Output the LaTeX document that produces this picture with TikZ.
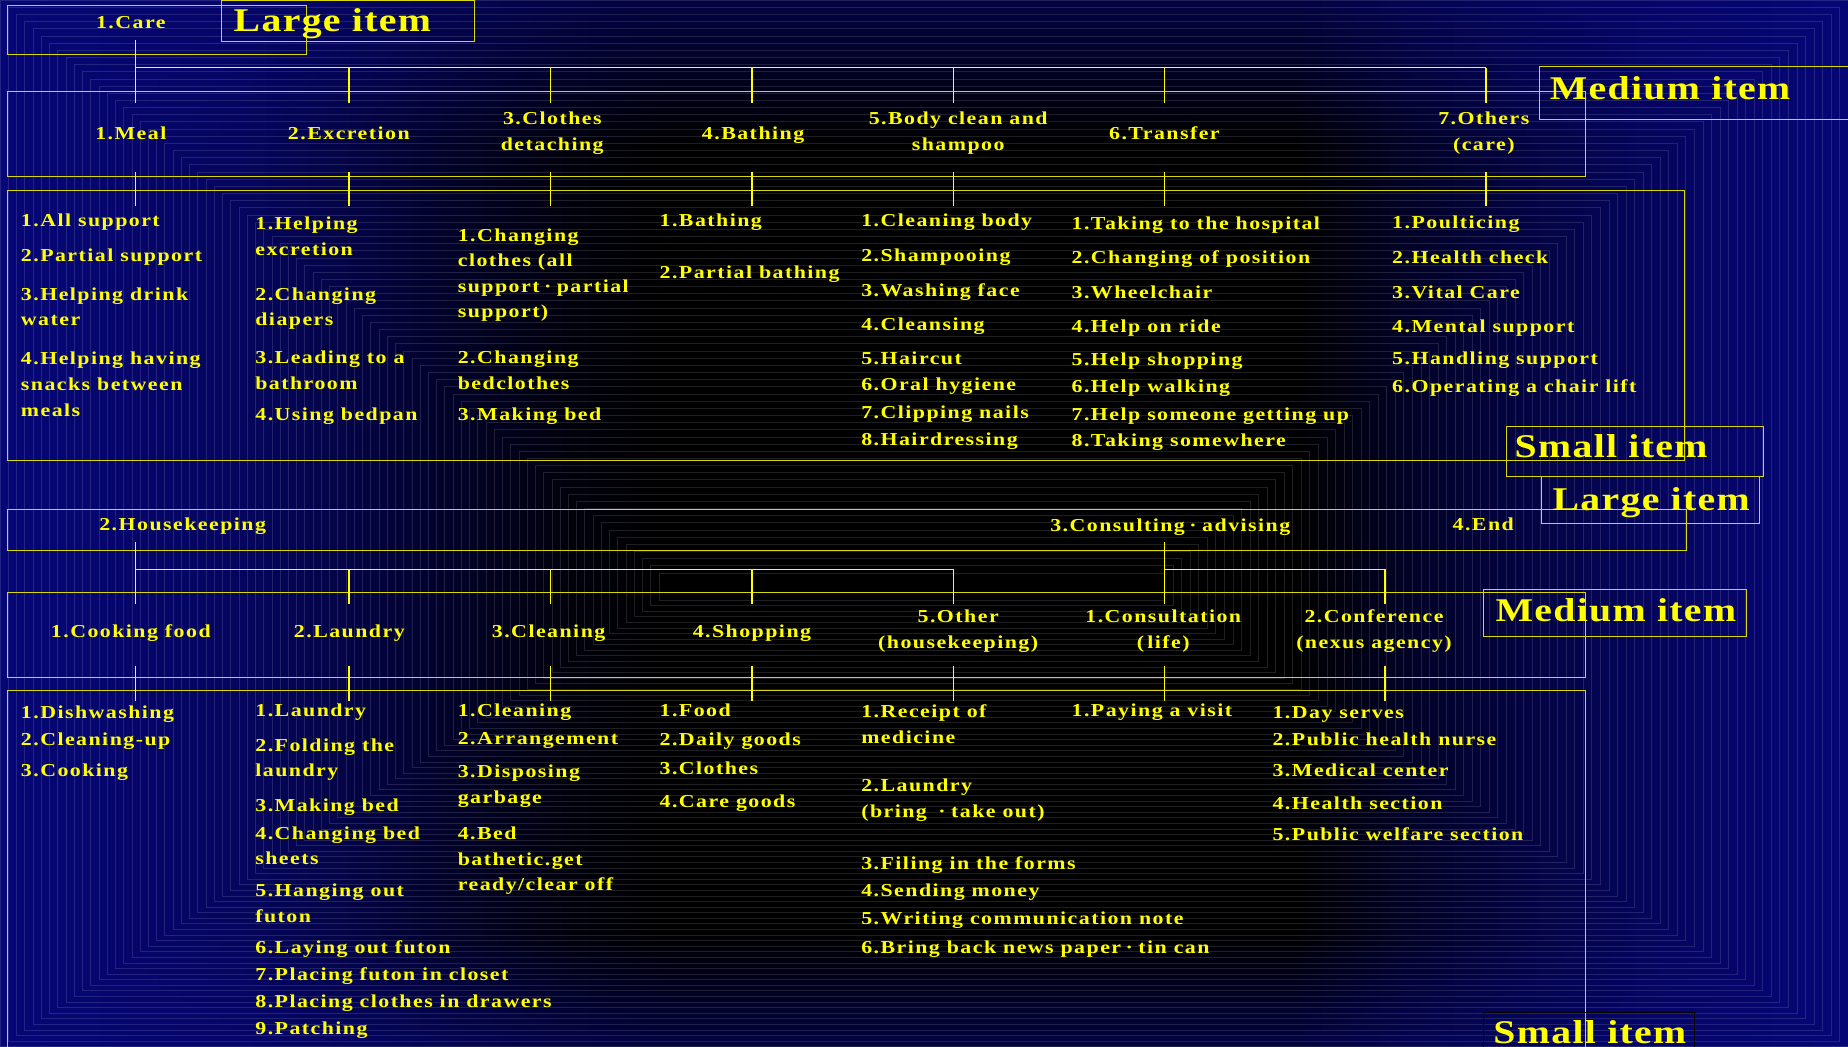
\documentclass[tikz,border=0pt]{standalone}
\usepackage{fontspec}
\newfontfamily\slidefont{Liberation Serif}[FakeStretch=1.2,LetterSpace=8]
\newfontfamily\tagfont{Liberation Serif}[FakeStretch=1.2,LetterSpace=4]
\definecolor{slidenavy}{RGB}{6,6,118}
\definecolor{itemyellow}{RGB}{255,255,0}
\definecolor{frameyellow}{RGB}{215,215,10}
\colorlet{navyA}{black!20!slidenavy}
\colorlet{navyB}{black!42!slidenavy}
\colorlet{navyC}{black!68!slidenavy}
\colorlet{navyD}{black!90!slidenavy}
% tikz maps the middle 25bp--75bp of a shading onto the path
\pgfdeclarehorizontalshading{slidebg}{100bp}{color(0bp)=(slidenavy);
  color(25bp)=(slidenavy); color(31.5bp)=(navyA); color(34.5bp)=(navyB);
  color(37.5bp)=(navyC); color(40.5bp)=(navyD); color(43bp)=(black);
  color(60bp)=(black); color(63bp)=(navyC); color(66.5bp)=(navyB);
  color(70bp)=(navyA); color(75bp)=(slidenavy); color(100bp)=(slidenavy)}
\newcommand{\jpdot}{\hspace{.25em}·\hspace{.3em}}
\tikzset{
  item/.style={anchor=base west,inner sep=0pt,align=left,text=itemyellow,
    font=\slidefont\bfseries\fontsize{11}{15.4}\selectfont},
  group/.style={anchor=base,inner sep=0pt,align=center,text=itemyellow,
    font=\slidefont\bfseries\fontsize{11}{15.4}\selectfont},
  tag/.style={anchor=base,inner sep=0pt,text=itemyellow,
    font=\tagfont\bfseries\fontsize{20}{24}\selectfont},
  frame/.style={draw=frameyellow,line width=.6pt},
  conn/.style={draw=itemyellow,line width=.9pt},
}

\begin{document}
\begin{tikzpicture}[x=0.025cm,y=-0.025cm]
\useasboundingbox (0,0) rectangle (1568,888);
%Background
\shade[shading=slidebg] (0,0) rectangle (1568,888);
\foreach \k in {0,...,19}{
  \pgfmathsetmacro\ringstep{\k/80}
  \pgfmathsetmacro\ringnext{(\k+1)/80}
  \pgfmathsetmacro\bandfade{0.55*(1-\k/20)}
  \fill[slidenavy,fill opacity=\bandfade,even odd rule]
    ({559*\ringstep},{486*\ringstep}) rectangle ({1568-580*\ringstep},{888-379*\ringstep})
    ({559*\ringnext},{486*\ringnext}) rectangle ({1568-580*\ringnext},{888-379*\ringnext});
}
\foreach \k in {0,...,80}{
  \pgfmathsetmacro\ringstep{\k/80}
  \draw[white,draw opacity=.12,line width=.3pt]
    ({559*\ringstep},{486*\ringstep}) rectangle ({1568-580*\ringstep},{888-379*\ringstep});
}
%Frames
\draw[frame] (6,5) rectangle (260,46);
\draw[frame] (188,0.5) rectangle (403,35);
\draw[frame] (6,78) rectangle (1345,150);
\draw[frame] (1306,56) rectangle (1580,101);
\draw[frame] (6,162) rectangle (1429,391);
\draw[frame] (1278,362) rectangle (1496,404.5);
\draw[frame] (6,432) rectangle (1431,467.5);
\draw[frame] (1308,404.5) rectangle (1493,444);
\draw[frame] (6,503) rectangle (1345,574.5);
\draw[frame] (1259,500) rectangle (1482,540);
\draw[frame] (6,586) rectangle (1345,900);
\draw[black,line width=.6pt] (1259,859) rectangle (1438,900);
%Tags
\node[tag] (largeA) at (282,26.9) {Large item};
\node[tag] (mediumA) at (1417,84) {Medium item};
\node[tag] (smallA) at (1367,388.6) {Small item};
\node[tag] (largeB) at (1401,433) {Large item};
\node[tag] (mediumB) at (1371,527.5) {Medium item};
\node[tag] (smallB) at (1349,885.5) {Small item};
%Large items
\node[group] (care) at (111,24) {1.Care};
\node[group] (housekeeping) at (155,450.3) {2.Housekeeping};
\node[group] (consulting) at (993,451.1) {3.Consulting\jpdot advising};
\node[group] (endItem) at (1258.5,449.7) {4.End};
%Medium items (base = last line)
\node[group] (meal) at (111,118.2) {1.Meal};
\node[group] (excretion) at (296,118.2) {2.Excretion};
\node[group] (clothes) at (468.6,127.3) {3.Clothes\\detaching};
\node[group] (bathing) at (639,118.2) {4.Bathing};
\node[group] (bodyClean) at (813,127.3) {5.Body clean and\\shampoo};
\node[group] (transfer) at (988,118.2) {6.Transfer};
\node[group] (othersCare) at (1259,127.5) {7.Others\\(care)};
\node[group] (cooking) at (111,540.8) {1.Cooking food};
\node[group] (laundry) at (296.4,540.8) {2.Laundry};
\node[group] (cleaning) at (465.5,540.8) {3.Cleaning};
\node[group] (shopping) at (638,540.8) {4.Shopping};
\node[group] (otherHouse) at (813,550.1) {5.Other\\(housekeeping)};
\node[group] (consultation) at (987,550.1) {1.Consultation\\(\,life)};
\node[group] (conference) at (1165.8,550.1) {2.Conference\\(nexus agency)};
%Small items (care)
\node[item] (meal1) at (17.5,192.3) {1.All support};
\node[item] (meal2) at (17.5,222) {2.Partial support};
\node[item] (meal3) at (17.5,276.3) {3.Helping drink\\water};
\node[item] (meal4) at (17.5,353) {4.Helping having\\snacks between\\meals};
\node[item] (excr1) at (216.4,216.6) {1.Helping\\excretion};
\node[item] (excr2) at (216.4,276.3) {2.Changing\\diapers};
\node[item] (excr3) at (216.4,330.3) {3.Leading to a\\bathroom};
\node[item] (excr4) at (216.4,356.4) {4.Using bedpan};
\node[item] (cloth1) at (388.2,269.5) {1.Changing\\clothes (all\\support\jpdot partial\\support)};
\node[item] (cloth2) at (388.2,330.3) {2.Changing\\bedclothes};
\node[item] (cloth3) at (388.2,356.4) {3.Making bed};
\node[item] (bath1) at (559.4,192.3) {1.Bathing};
\node[item] (bath2) at (559.4,236.7) {2.Partial bathing};
\node[item] (body1) at (730.5,192.3) {1.Cleaning body};
\node[item] (body2) at (730.5,222) {2.Shampooing};
\node[item] (body3) at (730.5,251.7) {3.Washing face};
\node[item] (body4) at (730.5,280.6) {4.Cleansing};
\node[item] (body5) at (730.5,309.1) {5.Haircut};
\node[item] (body6) at (730.5,331.5) {6.Oral hygiene};
\node[item] (body7) at (730.5,355.2) {7.Clipping nails};
\node[item] (body8) at (730.5,378.2) {8.Hairdressing};
\node[item] (trans1) at (909,194.6) {1.Taking to the hospital};
\node[item] (trans2) at (909,223.4) {2.Changing of position};
\node[item] (trans3) at (909,253.1) {3.Wheelchair};
\node[item] (trans4) at (909,282) {4.Help on ride};
\node[item] (trans5) at (909,309.7) {5.Help shopping};
\node[item] (trans6) at (909,332.9) {6.Help walking};
\node[item] (trans7) at (909,356.4) {7.Help someone getting up};
\node[item] (trans8) at (909,379) {8.Taking somewhere};
\node[item] (oth1) at (1181,193.7) {1.Poulticing};
\node[item] (oth2) at (1181,223.4) {2.Health check};
\node[item] (oth3) at (1181,253.1) {3.Vital Care};
\node[item] (oth4) at (1181,282) {4.Mental support};
\node[item] (oth5) at (1181,309.1) {5.Handling support};
\node[item] (oth6) at (1181,332.9) {6.Operating a chair lift};
%Small items (housekeeping, consulting)
\node[item] (cook1) at (17.5,609.5) {1.Dishwashing};
\node[item] (cook2) at (17.5,632.7) {2.Cleaning-up};
\node[item] (cook3) at (17.5,659) {3.Cooking};
\node[item] (laun1) at (216.4,608.1) {1.Laundry};
\node[item] (laun2) at (216.4,659) {2.Folding the\\laundry};
\node[item] (laun3) at (216.4,688.7) {3.Making bed};
\node[item] (laun4) at (216.4,733.9) {4.Changing bed\\sheets};
\node[item] (laun5) at (216.4,782.6) {5.Hanging out\\futon};
\node[item] (laun6) at (216.4,808.9) {6.Laying out futon};
\node[item] (laun7) at (216.4,832.1) {7.Placing futon in closet};
\node[item] (laun8) at (216.4,855) {8.Placing clothes in drawers};
\node[item] (laun9) at (216.4,877.6) {9.Patching};
\node[item] (clean1) at (388.2,608.1) {1.Cleaning};
\node[item] (clean2) at (388.2,632.1) {2.Arrangement};
\node[item] (clean3) at (388.2,681.6) {3.Disposing\\garbage};
\node[item] (clean4) at (388.2,755.7) {4.Bed\\bathetic.get\\ready/clear off};
\node[item] (shop1) at (559.4,608.1) {1.Food};
\node[item] (shop2) at (559.4,632.7) {2.Daily goods};
\node[item] (shop3) at (559.4,657) {3.Clothes};
\node[item] (shop4) at (559.4,685) {4.Care goods};
\node[item] (ohk1) at (730.5,630.7) {1.Receipt of\\medicine};
\node[item] (ohk2) at (730.5,693.5) {2.Laundry\\(bring \jpdot take out)};
\node[item] (ohk3) at (730.5,737.6) {3.Filing in the forms};
\node[item] (ohk4) at (730.5,760.8) {4.Sending money};
\node[item] (ohk5) at (730.5,784.3) {5.Writing communication note};
\node[item] (ohk6) at (730.5,808.9) {6.Bring back news paper\jpdot tin can};
\node[item] (cons1) at (909,608.1) {1.Paying a visit};
\node[item] (conf1) at (1079.5,609.5) {1.Day serves};
\node[item] (conf2) at (1079.5,632.7) {2.Public health nurse};
\node[item] (conf3) at (1079.5,659) {3.Medical center};
\node[item] (conf4) at (1079.5,686.7) {4.Health section};
\node[item] (conf5) at (1079.5,713.3) {5.Public welfare section};
%Connections (care)
\coordinate (stemA) at (115,34);
\coordinate (busA1) at (115,57.4);
\coordinate (busA2) at (296,57.4);
\coordinate (busA3) at (467,57.4);
\coordinate (busA4) at (638,57.4);
\coordinate (busA5) at (809,57.4);
\coordinate (busA6) at (988,57.4);
\coordinate (busA7) at (1261,57.4);
\coordinate (tickA) at (0,87);
\coordinate (dropA) at (0,146);
\coordinate (footA) at (0,175);
\draw[conn] (stemA) -- (busA1 |- tickA);
\draw[conn] (busA1) -- (busA7);
\draw[conn] (busA2) -- (busA2 |- tickA);
\draw[conn] (busA3) -- (busA3 |- tickA);
\draw[conn] (busA4) -- (busA4 |- tickA);
\draw[conn] (busA5) -- (busA5 |- tickA);
\draw[conn] (busA6) -- (busA6 |- tickA);
\draw[conn] (busA7) -- (busA7 |- tickA);
\draw[conn] (busA1 |- dropA) -- (busA1 |- footA);
\draw[conn] (busA2 |- dropA) -- (busA2 |- footA);
\draw[conn] (busA3 |- dropA) -- (busA3 |- footA);
\draw[conn] (busA4 |- dropA) -- (busA4 |- footA);
\draw[conn] (busA5 |- dropA) -- (busA5 |- footA);
\draw[conn] (busA6 |- dropA) -- (busA6 |- footA);
\draw[conn] (busA7 |- dropA) -- (busA7 |- footA);
%Connections (housekeeping, consulting)
\coordinate (stemB) at (0,460);
\coordinate (busB1) at (115,483);
\coordinate (busB2) at (296,483);
\coordinate (busB3) at (467,483);
\coordinate (busB4) at (638,483);
\coordinate (busB5) at (809,483);
\coordinate (busB6) at (988,483);
\coordinate (busB7) at (1175,483);
\coordinate (tickB) at (0,512.7);
\coordinate (dropB) at (0,565);
\coordinate (footB) at (0,595);
\draw[conn] (busB1 |- stemB) -- (busB1 |- tickB);
\draw[conn] (busB1) -- (busB5);
\draw[conn] (busB2) -- (busB2 |- tickB);
\draw[conn] (busB3) -- (busB3 |- tickB);
\draw[conn] (busB4) -- (busB4 |- tickB);
\draw[conn] (busB5) -- (busB5 |- tickB);
\draw[conn] (busB6 |- stemB) -- (busB6 |- tickB);
\draw[conn] (busB6) -- (busB7);
\draw[conn] (busB7) -- (busB7 |- tickB);
\draw[conn] (busB1 |- dropB) -- (busB1 |- footB);
\draw[conn] (busB2 |- dropB) -- (busB2 |- footB);
\draw[conn] (busB3 |- dropB) -- (busB3 |- footB);
\draw[conn] (busB4 |- dropB) -- (busB4 |- footB);
\draw[conn] (busB5 |- dropB) -- (busB5 |- footB);
\draw[conn] (busB6 |- dropB) -- (busB6 |- footB);
\draw[conn] (busB7 |- dropB) -- (busB7 |- footB);
\end{tikzpicture}
\end{document}
